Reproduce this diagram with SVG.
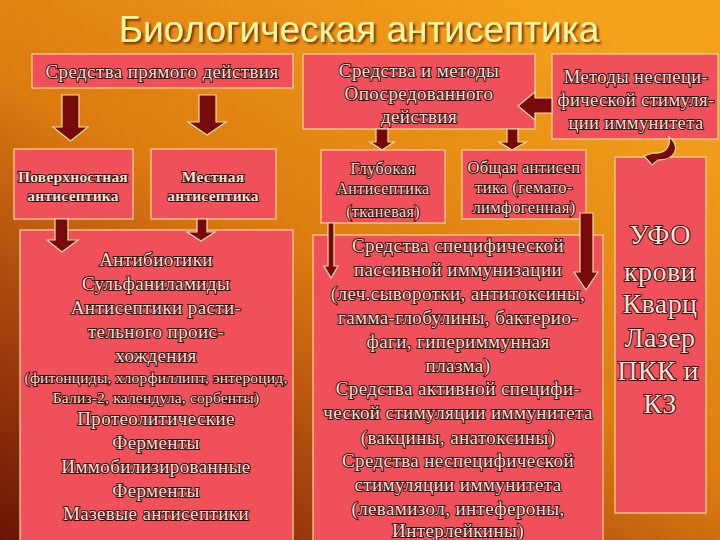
<svg xmlns="http://www.w3.org/2000/svg" width="720" height="540" viewBox="0 0 720 540">
<defs>
<linearGradient id="bg" x1="0" y1="1" x2="0.75" y2="0">
<stop offset="0" stop-color="#6a1406"/>
<stop offset="0.28" stop-color="#a8440e"/>
<stop offset="0.55" stop-color="#dc7c10"/>
<stop offset="1" stop-color="#f4a21c"/>
</linearGradient>
<filter id="sh" x="-5%" y="-20%" width="110%" height="140%">
<feDropShadow dx="2" dy="2" stdDeviation="0.8" flood-color="#5a1e00" flood-opacity="0.8"/>
</filter>
<style>
.box{fill:#f0505a;stroke:#f8d898;stroke-width:1.2}
.t{font-family:"Liberation Serif","DejaVu Serif",serif;fill:#fbe2d8;stroke:#300404;stroke-width:1.9;paint-order:stroke;text-anchor:middle;letter-spacing:0.4px}
.b{font-weight:bold;letter-spacing:0.2px}
.arr{fill:#760a0a;stroke:#f6dca8;stroke-width:1.2;stroke-linejoin:miter}
.title{font-family:"Liberation Sans",Arial,sans-serif;font-size:37px;fill:#fff4a0;text-anchor:middle}
</style>
</defs>
<rect width="720" height="540" fill="url(#bg)"/>
<text class="title" x="359" y="42" filter="url(#sh)">Биологическая антисептика</text>

<g id="n-pryamogo">
<rect class="box" x="32" y="54" width="261" height="34"/>
<text class="t" x="162" y="78" font-size="19">Средства прямого действия</text>
</g>
<g id="n-oposred">
<rect class="box" x="303" y="54" width="232" height="75"/>
<text class="t" x="419" y="77" font-size="19">Средства и методы</text>
<text class="t" x="419" y="100" font-size="19">Опосредованного</text>
<text class="t" x="419" y="123" font-size="19">действия</text>
</g>
<g id="n-nespec">
<rect class="box" x="552" y="54" width="166" height="85"/>
<text class="t" x="636" y="83" font-size="18.5">Методы неспеци-</text>
<text class="t" x="636" y="106" font-size="18.5">фической стимуля-</text>
<text class="t" x="636" y="129" font-size="18.5">ции иммунитета</text>
</g>
<g id="n-poverh">
<rect class="box" x="14" y="149" width="119" height="70"/>
<text class="t b" x="73" y="182" font-size="15.5">Поверхностная</text>
<text class="t b" x="73" y="201" font-size="15.5">антисептика</text>
</g>
<g id="n-mestnaya">
<rect class="box" x="151" y="149" width="125" height="70"/>
<text class="t b" x="213" y="182" font-size="15.5">Местная</text>
<text class="t b" x="213" y="201" font-size="15.5">антисептика</text>
</g>
<g id="n-glubokaya">
<rect class="box" x="321" y="150" width="124" height="73"/>
<text class="t" x="383" y="174" font-size="16">Глубокая</text>
<text class="t" x="383" y="194" font-size="16">Антисептика</text>
<text class="t" x="383" y="217" font-size="16">(тканевая)</text>
</g>
<g id="n-obshaya">
<rect class="box" x="462" y="150" width="124" height="69"/>
<text class="t" x="524" y="173" font-size="16.5">Общая антисеп</text>
<text class="t" x="524" y="193" font-size="16.5">тика (гемато-</text>
<text class="t" x="524" y="213" font-size="16.5">лимфогенная)</text>
</g>
<g id="n-ufo">
<rect class="box" x="615" y="157" width="91" height="356"/>
<text class="t" x="660" y="244" font-size="28">УФО</text>
<text class="t" x="660" y="281" font-size="28">крови</text>
<text class="t" x="660" y="313" font-size="28">Кварц</text>
<text class="t" x="660" y="347" font-size="28">Лазер</text>
<text class="t" x="658" y="380" font-size="28">ПКК и</text>
<text class="t" x="660" y="413" font-size="28">КЗ</text>
</g>
<g id="n-mestnaya-list">
<rect class="box" x="20" y="230" width="273" height="320"/>
<text class="t" x="156" y="266" font-size="19">Антибиотики</text>
<text class="t" x="156" y="290" font-size="19">Сульфаниламиды</text>
<text class="t" x="156" y="314" font-size="19">Антисептики расти-</text>
<text class="t" x="156" y="338" font-size="19">тельного проис-</text>
<text class="t" x="156" y="362" font-size="19">хождения</text>
<text class="t" x="156" y="383" font-size="15.5" style="letter-spacing:0.2px">(фитонциды, хлорфиллипт, энтероцид,</text>
<text class="t" x="156" y="403" font-size="15.5" style="letter-spacing:0.2px">Бализ-2, календула, сорбенты)</text>
<text class="t" x="156" y="425" font-size="19">Протеолитические</text>
<text class="t" x="156" y="449" font-size="19">Ферменты</text>
<text class="t" x="156" y="473" font-size="19">Иммобилизированные</text>
<text class="t" x="156" y="497" font-size="19">Ферменты</text>
<text class="t" x="156" y="520" font-size="19">Мазевые антисептики</text>
</g>
<g id="n-immun-list">
<rect class="box" x="313" y="235" width="290" height="315"/>
<text class="t" x="458" y="252" font-size="19">Средства специфической</text>
<text class="t" x="458" y="276" font-size="19">пассивной иммунизации</text>
<text class="t" x="458" y="300" font-size="19">(леч.сыворотки, антитоксины,</text>
<text class="t" x="458" y="324" font-size="19">гамма-глобулины, бактерио-</text>
<text class="t" x="458" y="348" font-size="19">фаги, гипериммунная</text>
<text class="t" x="458" y="372" font-size="19">плазма)</text>
<text class="t" x="458" y="395" font-size="19">Средства активной специфи-</text>
<text class="t" x="458" y="419" font-size="19">ческой стимуляции иммунитета</text>
<text class="t" x="458" y="444" font-size="19">(вакцины, анатоксины)</text>
<text class="t" x="458" y="467" font-size="19">Средства неспецифической</text>
<text class="t" x="458" y="491" font-size="19">стимуляции иммунитета</text>
<text class="t" x="458" y="515" font-size="19">(левамизол, интефероны,</text>
<text class="t" x="458" y="537" font-size="19">Интерлейкины)</text>
</g>

<g id="connectors">
<polygon class="arr" points="62,95 79,95 79,127 88,127 70.5,141 53,127 62,127"/>
<polygon class="arr" points="199,95 216,95 216,122 226,122 207,135 188,122 199,122"/>
<polygon class="arr" points="55,219 68,219 68,240 78,240 62,252 47,240 55,240"/>
<polygon class="arr" points="197,219 207,219 207,232 215,232 201,241 187,232 197,232"/>
<polygon class="arr" points="376,129 388,129 388,142 394,142 382,150 370,142 376,142"/>
<polygon class="arr" points="507,129 518,129 518,142 526,142 512,150 499,142 507,142"/>
<polygon class="arr" points="552,98 535,98 535,92 518,106 535,120 535,113 552,113"/>
<polygon class="arr" points="328,223 334,223 334,266 338,266 331,278 324,266 328,266"/>
<polygon class="arr" points="580,213 593,213 593,272 598,272 586,290 574,272 580,272"/>
<path class="arr" d="M669,137 C681,146 676,160 658,160 L652,165 L644,156 L653,153 C664,154 671,148 669,137 Z"/>
</g>
</svg>
